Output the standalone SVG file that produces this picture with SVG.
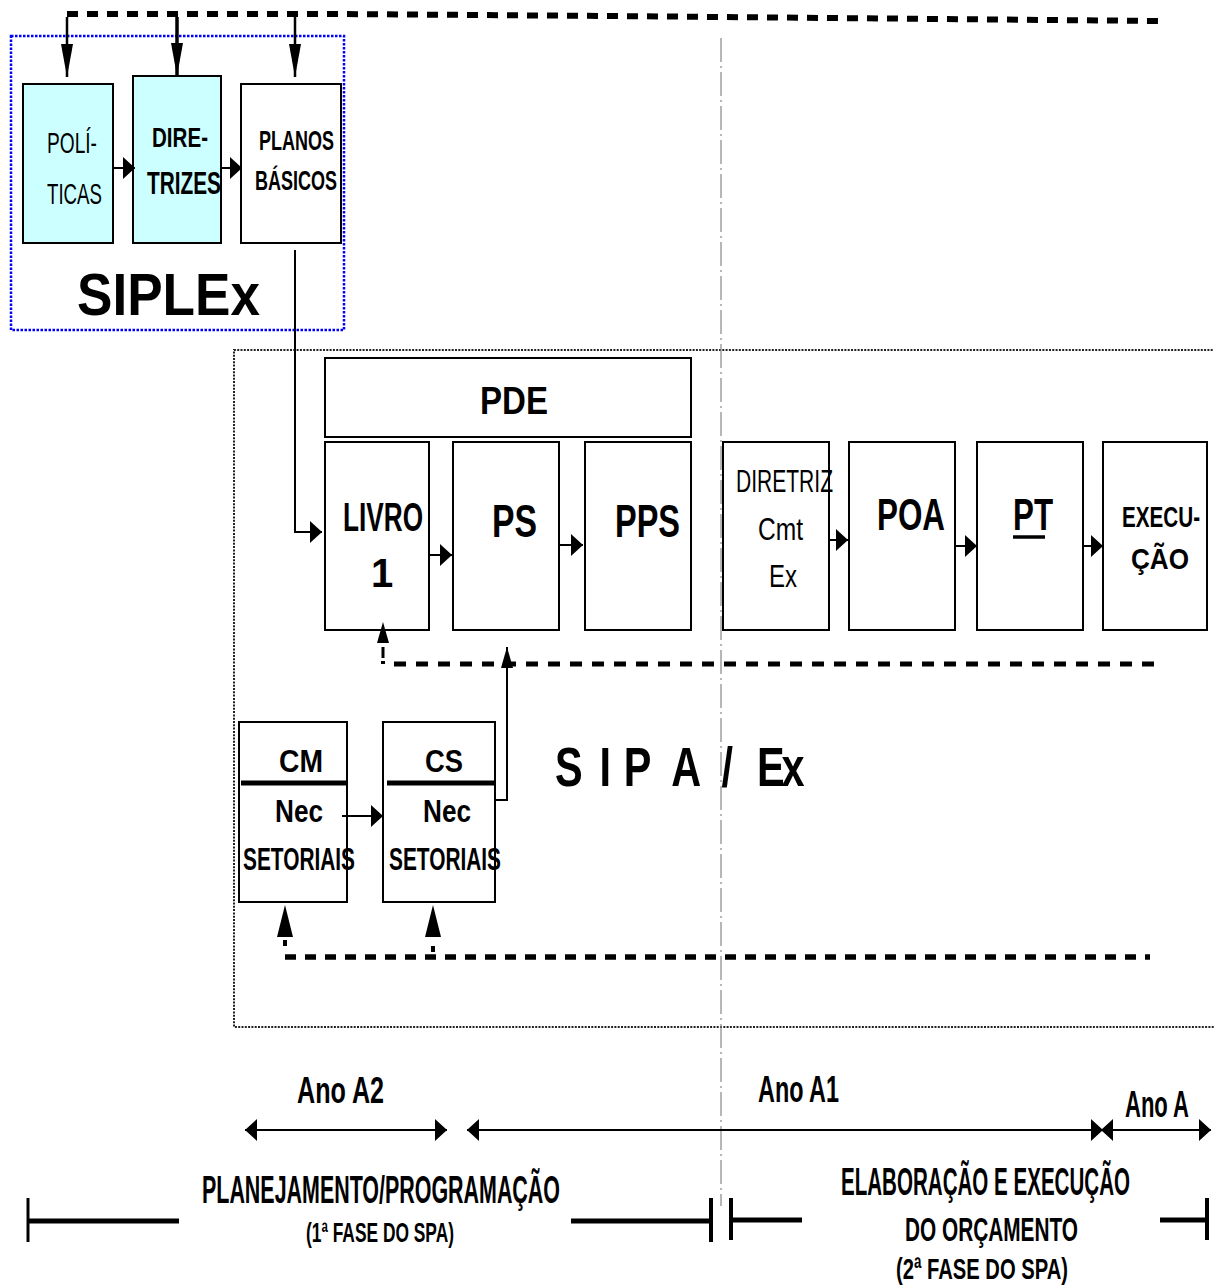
<svg xmlns="http://www.w3.org/2000/svg" width="1214" height="1285" viewBox="0 0 1214 1285">
<defs>
<marker id="ah" markerUnits="userSpaceOnUse" markerWidth="12" markerHeight="22" refX="12" refY="11" orient="auto-start-reverse"><path d="M0,0 L12,11 L0,22 Z" fill="#000"/></marker>
<marker id="av" markerUnits="userSpaceOnUse" markerWidth="33" markerHeight="12" refX="33" refY="6" orient="auto"><path d="M0,0 L33,6 L0,12 Z" fill="#000"/></marker>
<marker id="au" markerUnits="userSpaceOnUse" markerWidth="32" markerHeight="16" refX="32" refY="8" orient="auto"><path d="M0,0 L32,8 L0,16 Z" fill="#000"/></marker>
<marker id="as" markerUnits="userSpaceOnUse" markerWidth="21" markerHeight="12" refX="21" refY="6" orient="auto"><path d="M0,0 L21,6 L0,12 Z" fill="#000"/></marker>
</defs>
<style>
.box{fill:#fff;stroke:#000;stroke-width:2}
.cyan{fill:#CCFFFF}
.t{font-family:"Liberation Sans",Arial,sans-serif;fill:#000}
.b{font-weight:bold}
.ln{stroke:#000;stroke-width:2;fill:none}
.dash{stroke:#000;stroke-width:6;fill:none;stroke-dasharray:11 9}
.bar{stroke:#000;stroke-width:5;fill:none}
.tick{stroke:#000;stroke-width:4;fill:none}
</style>
<rect width="1214" height="1285" fill="#fff"/>

<!-- frames -->
<g id="siplex-frame">
<rect x="11" y="36" width="333" height="294" fill="none" stroke="#0000FF" stroke-width="2.5" stroke-dasharray="2.5 1.5"/>
<text class="t b" x="77" y="315" font-size="60" textLength="183" lengthAdjust="spacingAndGlyphs">SIPLEx</text>
</g>
<g id="sipa-frame">
<path d="M1216,350 H234 V1027 H1216" fill="none" stroke="#222" stroke-width="2" stroke-dasharray="2 1.3"/>
<text class="t b" font-size="56" transform="translate(0,786) scale(0.74,1)" y="0" x="750 810 843 907 975 1023 1056">SIPA/Ex</text>
</g>
<line id="divider" x1="721" y1="38" x2="721" y2="1206" stroke="#888" stroke-width="1.2" stroke-dasharray="24 4 2 4"/>

<!-- nodes -->
<g id="politicas">
<rect class="box cyan" x="23" y="84" width="90" height="159"/>
<text class="t" x="47" y="153" font-size="30" textLength="50" lengthAdjust="spacingAndGlyphs">POLÍ-</text>
<text class="t" x="47" y="204" font-size="30" textLength="55" lengthAdjust="spacingAndGlyphs">TICAS</text>
</g>
<g id="diretrizes">
<rect class="box cyan" x="133" y="76" width="88" height="167"/>
<text class="t b" x="152" y="147" font-size="28" textLength="56" lengthAdjust="spacingAndGlyphs">DIRE-</text>
<text class="t b" x="147" y="194" font-size="32" textLength="74" lengthAdjust="spacingAndGlyphs">TRIZES</text>
</g>
<g id="planos">
<rect class="box" x="241" y="84" width="100" height="159"/>
<text class="t b" x="259" y="150" font-size="28" textLength="75" lengthAdjust="spacingAndGlyphs">PLANOS</text>
<text class="t b" x="255" y="190" font-size="28" textLength="82" lengthAdjust="spacingAndGlyphs">BÁSICOS</text>
</g>
<g id="pde">
<rect class="box" x="325" y="358" width="366" height="79"/>
<text class="t b" x="480" y="414" font-size="38" textLength="68" lengthAdjust="spacingAndGlyphs">PDE</text>
</g>
<g id="livro">
<rect class="box" x="325" y="442" width="104" height="188"/>
<text class="t b" x="343" y="531" font-size="40" textLength="80" lengthAdjust="spacingAndGlyphs">LIVRO</text>
<text class="t b" x="371" y="587" font-size="40">1</text>
</g>
<g id="ps">
<rect class="box" x="453" y="442" width="106" height="188"/>
<text class="t b" x="492" y="537" font-size="46" textLength="45" lengthAdjust="spacingAndGlyphs">PS</text>
</g>
<g id="pps">
<rect class="box" x="585" y="442" width="106" height="188"/>
<text class="t b" x="615" y="537" font-size="46" textLength="65" lengthAdjust="spacingAndGlyphs">PPS</text>
</g>
<g id="diretriz-cmt">
<rect class="box" x="723" y="442" width="106" height="188"/>
<text class="t" x="736" y="492" font-size="32" textLength="97" lengthAdjust="spacingAndGlyphs">DIRETRIZ</text>
<text class="t" x="758" y="540" font-size="32" textLength="45" lengthAdjust="spacingAndGlyphs">Cmt</text>
<text class="t" x="769" y="587" font-size="32" textLength="28" lengthAdjust="spacingAndGlyphs">Ex</text>
</g>
<g id="poa">
<rect class="box" x="849" y="442" width="106" height="188"/>
<text class="t b" x="877" y="530" font-size="44" textLength="68" lengthAdjust="spacingAndGlyphs">POA</text>
</g>
<g id="pt">
<rect class="box" x="977" y="442" width="106" height="188"/>
<text class="t b" x="1013" y="530" font-size="44" textLength="40" lengthAdjust="spacingAndGlyphs">PT</text>
<line x1="1013" y1="537" x2="1045" y2="537" stroke="#000" stroke-width="3.5"/>
</g>
<g id="execucao">
<rect class="box" x="1103" y="442" width="104" height="188"/>
<text class="t b" font-size="30" transform="translate(1122,527) scale(0.688,1)" x="0" y="0" textLength="113.4" lengthAdjust="spacingAndGlyphs">EXECU-</text>
<text class="t b" x="1131" y="569" font-size="30" textLength="58" lengthAdjust="spacingAndGlyphs">ÇÃO</text>
</g>
<g id="cm">
<rect class="box" x="239" y="722" width="108" height="180"/>
<line x1="241" y1="783" x2="346" y2="783" stroke="#000" stroke-width="5"/>
<text class="t b" x="279" y="772" font-size="31" textLength="44" lengthAdjust="spacingAndGlyphs">CM</text>
<text class="t b" x="275" y="822" font-size="31" textLength="48" lengthAdjust="spacingAndGlyphs">Nec</text>
<text class="t b" font-size="31" transform="translate(243,870) scale(0.67,1)" x="0" y="0" textLength="167.2" lengthAdjust="spacingAndGlyphs">SETORIAIS</text>
</g>
<g id="cs">
<rect class="box" x="383" y="722" width="112" height="180"/>
<line x1="387" y1="783" x2="494" y2="783" stroke="#000" stroke-width="5"/>
<text class="t b" x="425" y="772" font-size="31" textLength="38" lengthAdjust="spacingAndGlyphs">CS</text>
<text class="t b" x="423" y="822" font-size="31" textLength="48" lengthAdjust="spacingAndGlyphs">Nec</text>
<text class="t b" font-size="31" transform="translate(389,870) scale(0.67,1)" x="0" y="0" textLength="167.2" lengthAdjust="spacingAndGlyphs">SETORIAIS</text>
</g>

<!-- timeline -->
<g id="timeline">
<text class="t b" x="297" y="1103" font-size="36" textLength="87" lengthAdjust="spacingAndGlyphs">Ano A2</text>
<text class="t b" x="758" y="1102" font-size="36" textLength="81" lengthAdjust="spacingAndGlyphs">Ano A1</text>
<text class="t b" font-size="36" transform="translate(1125,1117) scale(0.604,1)" x="0" y="0" textLength="106" lengthAdjust="spacingAndGlyphs">Ano A</text>
<text class="t b" x="202" y="1203" font-size="38" textLength="358" lengthAdjust="spacingAndGlyphs">PLANEJAMENTO/PROGRAMAÇÃO</text>
<text class="t b" x="306" y="1242" font-size="28" textLength="148" lengthAdjust="spacingAndGlyphs">(1ª FASE DO SPA)</text>
<text class="t b" font-size="38" transform="translate(841,1195) scale(0.541,1)" x="0" y="0" textLength="534.2" lengthAdjust="spacingAndGlyphs">ELABORAÇÃO E EXECUÇÃO</text>
<text class="t b" x="905" y="1241" font-size="34" textLength="173" lengthAdjust="spacingAndGlyphs">DO ORÇAMENTO</text>
<text class="t b" x="896" y="1279" font-size="30" textLength="172" lengthAdjust="spacingAndGlyphs">(2ª FASE DO SPA)</text>
<line class="tick" x1="28" y1="1198" x2="28" y2="1242" style="stroke-width:3"/>
<line class="bar" x1="28" y1="1221" x2="179" y2="1221"/>
<line class="bar" x1="571" y1="1221" x2="711" y2="1221"/>
<line class="tick" x1="711" y1="1198" x2="711" y2="1242"/>
<line class="tick" x1="731" y1="1198" x2="731" y2="1240"/>
<line class="bar" x1="731" y1="1220" x2="802" y2="1220"/>
<line class="bar" x1="1160" y1="1220" x2="1207" y2="1220"/>
<line class="tick" x1="1207" y1="1198" x2="1207" y2="1240"/>
</g>

<!-- connectors -->
<g id="connectors">
<polyline class="dash" points="67,14 340,14 610,16 1160,21"/>
<line class="ln" x1="67" y1="17" x2="67" y2="77" marker-end="url(#av)" style="stroke-width:2.5"/>
<line class="ln" x1="177" y1="17" x2="177" y2="76" marker-end="url(#av)" style="stroke-width:3.5"/>
<line class="ln" x1="295" y1="17" x2="295" y2="77" marker-end="url(#av)" style="stroke-width:2.5"/>
<line class="ln" x1="114" y1="168" x2="135" y2="168" marker-end="url(#ah)"/>
<line class="ln" x1="222" y1="168" x2="242" y2="168" marker-end="url(#ah)"/>
<polyline class="ln" points="295,250 295,532 322,532" marker-end="url(#ah)"/>
<line class="ln" x1="430" y1="555" x2="452" y2="555" marker-end="url(#ah)"/>
<line class="ln" x1="560" y1="545" x2="583" y2="545" marker-end="url(#ah)"/>
<line class="ln" x1="830" y1="540" x2="848" y2="540" marker-end="url(#ah)"/>
<line class="ln" x1="956" y1="546" x2="977" y2="546" marker-end="url(#ah)"/>
<line class="ln" x1="1084" y1="546" x2="1103" y2="546" marker-end="url(#ah)"/>
<line class="ln" x1="342" y1="816" x2="383" y2="816" marker-end="url(#ah)"/>
<polyline class="ln" points="495,800 507,800 507,647" marker-end="url(#as)"/>
<line class="dash" x1="394" y1="664" x2="1155" y2="664" style="stroke-width:5;stroke-dasharray:12 10"/>
<line class="ln" x1="383" y1="664" x2="383" y2="661" style="stroke-width:4"/>
<line class="ln" x1="383" y1="658" x2="383" y2="622" marker-end="url(#as)" style="stroke-width:3;stroke-dasharray:11 100"/>
<line class="dash" x1="285" y1="957" x2="1150" y2="957" style="stroke-width:5.5;stroke-dasharray:11 9"/>
<line class="ln" x1="285" y1="946" x2="285" y2="905" marker-end="url(#au)" style="stroke-width:4;stroke-dasharray:6 200"/>
<line class="ln" x1="433" y1="952" x2="433" y2="905" marker-end="url(#au)" style="stroke-width:4;stroke-dasharray:6 6 0 200"/>
<line class="ln" x1="245" y1="1130" x2="447" y2="1130" marker-start="url(#ah)" marker-end="url(#ah)"/>
<line class="ln" x1="467" y1="1130" x2="1103" y2="1130" marker-start="url(#ah)" marker-end="url(#ah)"/>
<line class="ln" x1="1101" y1="1130" x2="1211" y2="1130" marker-start="url(#ah)" marker-end="url(#ah)"/>
</g>
</svg>
